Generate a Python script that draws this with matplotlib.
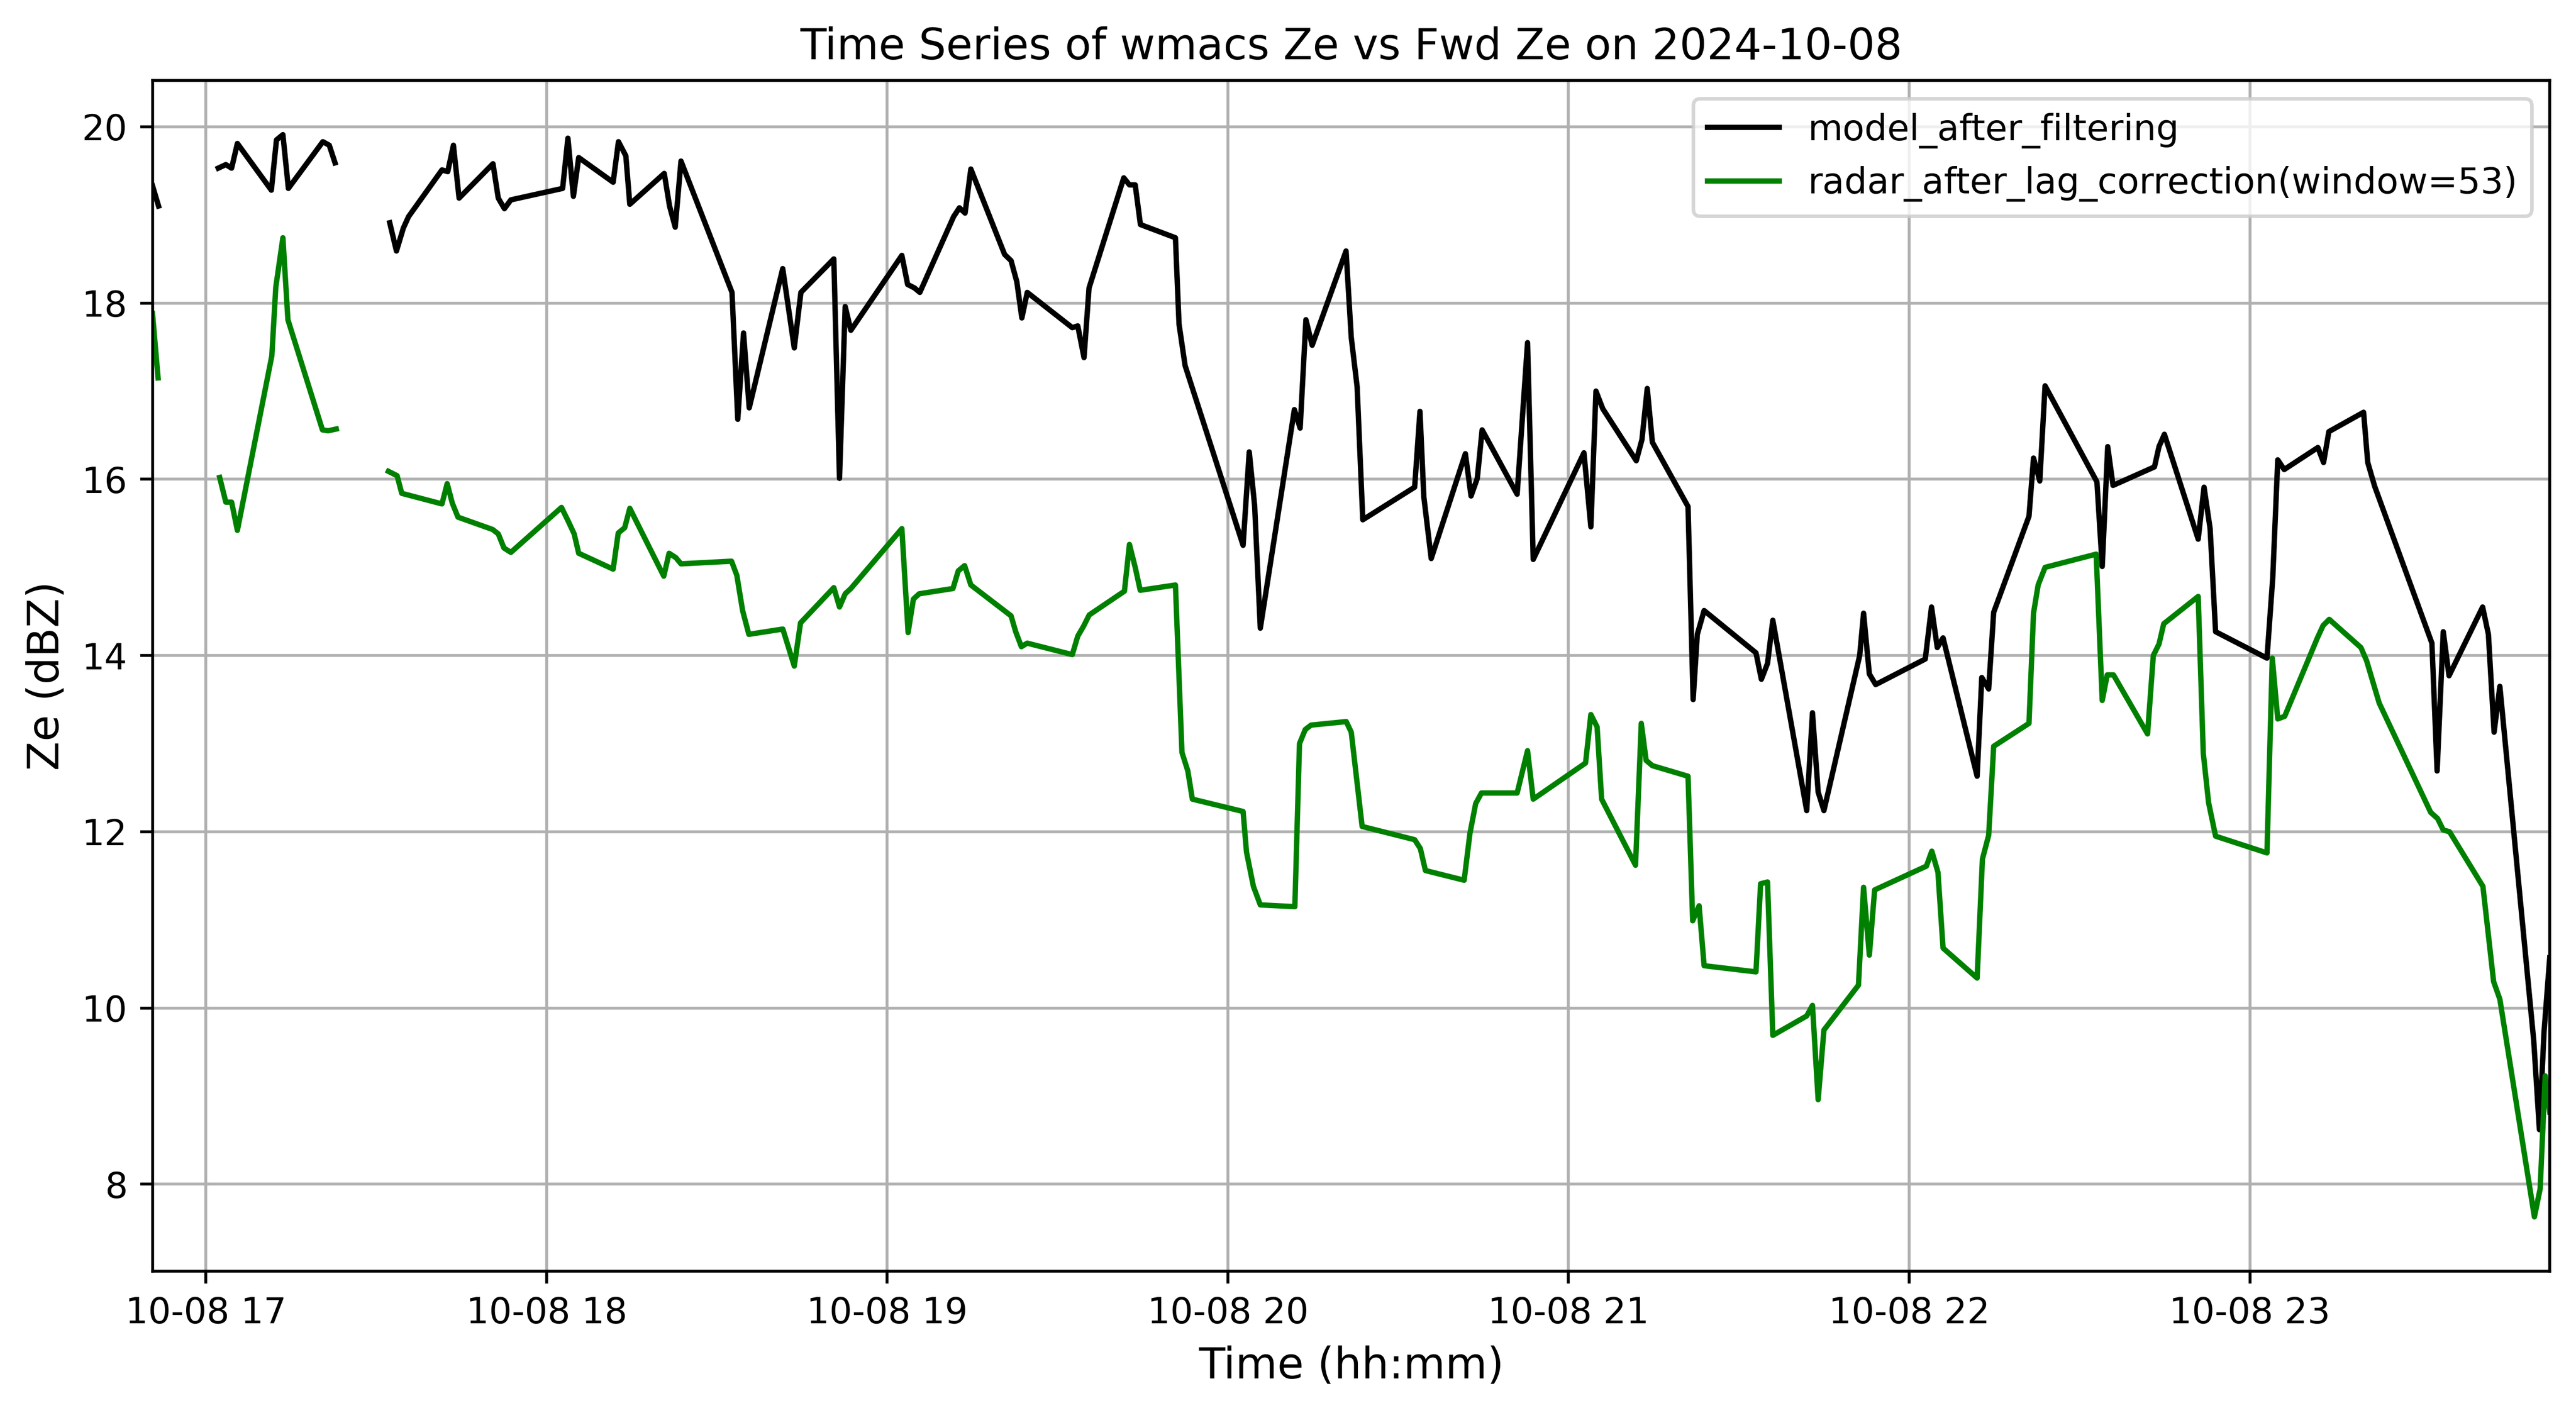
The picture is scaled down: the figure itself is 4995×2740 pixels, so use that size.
import numpy as np
import pandas as pd
import matplotlib
matplotlib.use("Agg")
import matplotlib.pyplot as plt
import matplotlib.dates as mdates

day = "2024-10-08"

# model Ze (black), NaN marks gaps in the record
model_time = [
    "16:50:36", "16:51:40", "16:57:00",
    "17:02:11", "17:03:31", "17:04:32", "17:05:33", "17:11:32", "17:12:26", "17:13:34",
    "17:14:32", "17:20:36", "17:21:44", "17:22:45", "17:27:00",
    "17:32:23", "17:33:34", "17:34:47", "17:35:42", "17:41:35", "17:42:36", "17:43:36",
    "17:44:36", "17:50:34", "17:51:30", "17:52:35", "17:53:43",
    "18:02:50", "18:03:46", "18:04:44", "18:05:40", "18:11:44", "18:12:40", "18:13:58",
    "18:14:40", "18:20:44", "18:21:40", "18:22:40", "18:23:41", "18:32:40", "18:33:41",
    "18:34:42", "18:35:42", "18:41:36", "18:43:38", "18:44:48", "18:50:36", "18:51:36",
    "18:52:36", "18:53:36",
    "19:02:35", "19:03:36", "19:04:49", "19:05:45", "19:11:42", "19:12:43", "19:13:43",
    "19:14:44", "19:20:41", "19:21:49", "19:22:50", "19:23:43", "19:24:40", "19:32:36",
    "19:33:34", "19:34:40", "19:35:33", "19:41:40", "19:42:40", "19:43:41", "19:44:36",
    "19:50:46", "19:51:24", "19:52:28",
    "20:02:41", "20:03:46", "20:04:43", "20:05:43", "20:11:43", "20:12:44", "20:13:45",
    "20:14:51", "20:20:49", "20:21:44", "20:22:46", "20:23:46", "20:32:54", "20:33:50",
    "20:34:31", "20:35:49", "20:41:50", "20:42:50", "20:43:56", "20:44:47", "20:50:57",
    "20:52:47", "20:53:47",
    "21:02:43", "21:03:56", "21:04:50", "21:06:02", "21:11:56", "21:12:56", "21:13:52",
    "21:14:46", "21:21:03", "21:21:57", "21:22:41", "21:23:53", "21:33:01", "21:33:58",
    "21:35:03", "21:35:59", "21:41:57", "21:42:58", "21:43:58", "21:44:59", "21:51:17",
    "21:51:58", "21:52:59", "21:54:06",
    "22:02:50", "22:03:56", "22:04:57", "22:05:58", "22:11:58", "22:12:47", "22:14:00",
    "22:14:53", "22:21:06", "22:21:54", "22:23:00", "22:23:56", "22:33:04", "22:34:00",
    "22:34:58", "22:35:54", "22:43:12", "22:44:00", "22:44:57", "22:50:54", "22:51:56",
    "22:53:00", "22:53:58",
    "23:03:01", "23:04:02", "23:04:55", "23:06:03", "23:11:59", "23:12:59", "23:13:55",
    "23:20:02", "23:20:46", "23:21:59", "23:32:04", "23:32:59", "23:34:04", "23:35:05",
    "23:41:00", "23:42:01", "23:43:01", "23:44:02", "23:50:00", "23:51:00", "23:51:49",
    "23:52:49",
]
model_ze = [
    19.33, 19.10, np.nan,
    19.53, 19.57, 19.53, 19.81, 19.28, 19.85, 19.91,
    19.30, 19.83, 19.79, 19.59, np.nan,
    18.91, 18.59, 18.85, 18.98, 19.51, 19.49, 19.79,
    19.19, 19.58, 19.19, 19.07, 19.17,
    19.30, 19.87, 19.21, 19.65, 19.37, 19.83, 19.67,
    19.12, 19.47, 19.10, 18.86, 19.61, 18.12, 16.68,
    17.66, 16.81, 18.39, 17.49, 18.12, 18.50, 16.01,
    17.96, 17.69,
    18.54, 18.21, 18.17, 18.12, 18.98, 19.08, 19.02,
    19.52, 18.55, 18.48, 18.24, 17.83, 18.12, 17.72,
    17.74, 17.38, 18.17, 19.42, 19.34, 19.34, 18.89,
    18.74, 17.76, 17.29,
    15.25, 16.31, 15.70, 14.31, 16.79, 16.58, 17.81,
    17.52, 18.59, 17.61, 17.05, 15.54, 15.91, 16.77,
    15.80, 15.10, 16.29, 15.81, 16.01, 16.56, 15.83,
    17.55, 15.09,
    16.30, 15.46, 17.00, 16.80, 16.21, 16.45, 17.03,
    16.42, 15.69, 13.50, 14.24, 14.51, 14.03, 13.73,
    13.91, 14.40, 12.24, 13.35, 12.45, 12.24, 14.00,
    14.48, 13.79, 13.67,
    13.96, 14.55, 14.09, 14.20, 12.63, 13.75, 13.62,
    14.49, 15.58, 16.24, 15.98, 17.06, 15.97, 15.01,
    16.37, 15.93, 16.14, 16.37, 16.51, 15.32, 15.91,
    15.44, 14.27,
    13.97, 14.88, 16.22, 16.11, 16.36, 16.19, 16.54,
    16.76, 16.19, 15.92, 14.14, 12.69, 14.27, 13.77,
    14.55, 14.24, 13.13, 13.65, 9.63, 8.62, 9.73,
    10.57,
]

# radar Ze after lag correction (green)
radar_time = [
    "16:50:36", "16:51:35", "16:57:00",
    "17:02:26", "17:03:31", "17:04:32", "17:05:33", "17:11:37", "17:12:19", "17:13:34",
    "17:14:27", "17:20:32", "17:21:32", "17:22:58", "17:27:00",
    "17:32:09", "17:33:41", "17:34:30", "17:41:35", "17:42:30", "17:43:24", "17:44:24",
    "17:50:30", "17:51:30", "17:52:30", "17:53:43",
    "18:02:38", "18:03:51", "18:04:52", "18:05:40", "18:11:44", "18:12:38", "18:13:46",
    "18:14:40", "18:20:39", "18:21:35", "18:22:47", "18:23:41", "18:32:35", "18:33:31",
    "18:34:32", "18:35:38", "18:41:37", "18:43:38", "18:44:44", "18:50:36", "18:51:36",
    "18:52:36", "18:53:36",
    "19:02:35", "19:03:41", "19:04:37", "19:05:38", "19:11:35", "19:12:31", "19:13:38",
    "19:14:44", "19:21:49", "19:22:38", "19:23:38", "19:24:40", "19:32:36", "19:33:34",
    "19:34:34", "19:35:35", "19:41:47", "19:42:40", "19:43:41", "19:44:34", "19:50:46",
    "19:51:55", "19:52:57", "19:53:45",
    "20:02:41", "20:03:17", "20:04:30", "20:05:43", "20:11:48", "20:12:37", "20:13:38",
    "20:14:39", "20:20:51", "20:21:44", "20:23:39", "20:32:54", "20:33:54", "20:34:48",
    "20:41:37", "20:42:38", "20:43:39", "20:44:40", "20:50:57", "20:52:47", "20:53:47",
    "21:03:00", "21:03:56", "21:05:02", "21:05:50", "21:11:48", "21:12:49", "21:13:40",
    "21:14:46", "21:21:03", "21:21:52", "21:23:00", "21:23:53", "21:33:01", "21:33:50",
    "21:35:03", "21:35:59", "21:41:57", "21:42:58", "21:43:58", "21:44:59", "21:51:04",
    "21:51:58", "21:52:59", "21:53:55",
    "22:03:02", "22:03:59", "22:05:04", "22:05:58", "22:11:58", "22:12:54", "22:14:00",
    "22:14:53", "22:21:06", "22:21:54", "22:22:43", "22:23:56", "22:32:56", "22:34:00",
    "22:34:53", "22:35:59", "22:41:59", "22:43:00", "22:44:00", "22:44:50", "22:50:54",
    "22:51:48", "22:52:44", "22:53:58",
    "23:03:01", "23:03:57", "23:04:55", "23:06:08", "23:11:54", "23:12:54", "23:13:59",
    "23:19:34", "23:20:34", "23:22:47", "23:31:51", "23:33:04", "23:34:04", "23:35:10",
    "23:41:03", "23:42:56", "23:44:02", "23:50:07", "23:51:08", "23:52:01", "23:52:49",
]
radar_ze = [
    17.88, 17.15, np.nan,
    16.02, 15.74, 15.74, 15.42, 17.40, 18.18, 18.74,
    17.81, 16.56, 16.55, 16.57, np.nan,
    16.09, 16.04, 15.84, 15.72, 15.95, 15.73, 15.57,
    15.43, 15.38, 15.22, 15.17,
    15.68, 15.52, 15.38, 15.16, 14.98, 15.39, 15.45,
    15.67, 14.90, 15.16, 15.11, 15.04, 15.07, 14.91,
    14.51, 14.24, 14.30, 13.88, 14.37, 14.77, 14.55,
    14.70, 14.76,
    15.44, 14.26, 14.64, 14.70, 14.76, 14.96, 15.02,
    14.80, 14.45, 14.27, 14.10, 14.14, 14.01, 14.22,
    14.33, 14.46, 14.73, 15.26, 15.00, 14.74, 14.80,
    12.90, 12.69, 12.37,
    12.23, 11.77, 11.38, 11.17, 11.15, 13.00, 13.16,
    13.21, 13.25, 13.13, 12.06, 11.91, 11.81, 11.56,
    11.45, 11.98, 12.32, 12.44, 12.44, 12.92, 12.37,
    12.78, 13.33, 13.19, 12.37, 11.62, 13.23, 12.81,
    12.75, 12.63, 10.99, 11.16, 10.48, 10.41, 11.41,
    11.43, 9.69, 9.91, 10.03, 8.96, 9.75, 10.26,
    11.37, 10.60, 11.34,
    11.61, 11.78, 11.54, 10.68, 10.34, 11.69, 11.96,
    12.97, 13.23, 14.48, 14.80, 15.00, 15.15, 13.49,
    13.78, 13.78, 13.11, 14.00, 14.13, 14.36, 14.67,
    12.89, 12.33, 11.95,
    11.76, 13.97, 13.28, 13.31, 14.20, 14.34, 14.41,
    14.09, 13.94, 13.46, 12.22, 12.15, 12.02, 12.00,
    11.38, 10.30, 10.10, 7.63, 7.95, 9.23, 8.82,
]

window = 53


def to_times(clock):
    return pd.to_datetime([f"{day} {c}" for c in clock])


model_t = to_times(model_time)
radar_t = to_times(radar_time)

fig, ax = plt.subplots(figsize=(9.99, 5.48), dpi=500)
fig.subplots_adjust(left=0.0592, right=0.9898, top=0.943, bottom=0.1005)

ax.plot(model_t, model_ze, color="black", linewidth=1.5, label="model_after_filtering")
ax.plot(radar_t, radar_ze, color="green", linewidth=1.5,
        label=f"radar_after_lag_correction(window={window})")

ax.set_xlim(min(model_t[0], radar_t[0]), max(model_t[-1], radar_t[-1]))
ax.xaxis.set_major_locator(mdates.HourLocator(interval=1))
ax.xaxis.set_major_formatter(mdates.DateFormatter("%m-%d %H"))

ax.set_title(f"Time Series of wmacs Ze vs Fwd Ze on {day}", fontsize=12)
ax.set_xlabel("Time (hh:mm)", fontsize=12)
ax.set_ylabel("Ze (dBZ)", fontsize=12)
ax.grid(True)
ax.legend(loc="upper right")

fig.savefig("out.png", dpi=500)
